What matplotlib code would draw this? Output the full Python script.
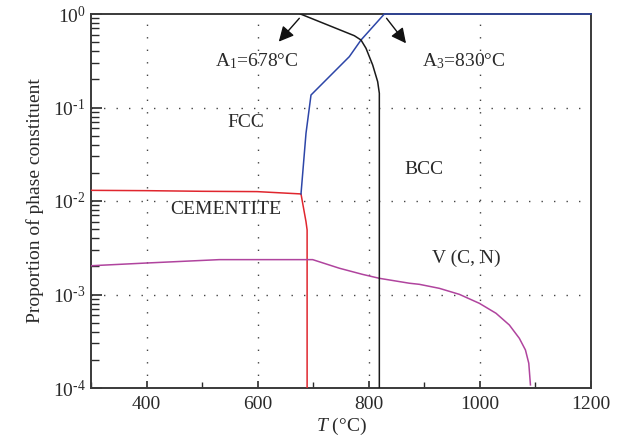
import math
import matplotlib
matplotlib.use("Agg")
import matplotlib.pyplot as plt
from matplotlib.ticker import FixedLocator, LogLocator, NullFormatter, FuncFormatter

plt.rcParams['font.family'] = ['Liberation Serif', 'DejaVu Serif']
plt.rcParams['mathtext.fontset'] = 'custom'
plt.rcParams['mathtext.rm'] = 'Liberation Serif'
plt.rcParams['mathtext.it'] = 'Liberation Serif:italic'

# ---- data ----
black_T = [677, 741, 774, 786, 795, 807, 816, 819, 819]
black_y = [1.0, 0.703, 0.586, 0.527, 0.43, 0.285, 0.189, 0.142, 1e-4]

blue_T = [678, 687, 696, 765, 786, 828, 1200]
blue_y = [0.0119, 0.053, 0.136, 0.35, 0.527, 1.0, 1.0]

red_T = [300, 400, 500, 599, 678, 687, 689, 689]
red_y = [0.0130, 0.0129, 0.0127, 0.0126, 0.0119, 0.006, 0.0049, 1e-4]

mag_T = [300, 399, 531, 699, 747, 789, 819, 873, 891, 927, 963, 999, 1029,
         1053, 1071, 1082, 1088, 1091]
mag_y = [0.00203, 0.00217, 0.00236, 0.00236, 0.00191, 0.00164, 0.00149, 0.00132,
         0.001285, 0.001164, 0.001004, 0.000805, 0.00063, 0.000472, 0.00034,
         0.000255, 0.000184, 0.000108]

xticks = [400, 600, 800, 1000, 1200]
xminor = [300, 500, 700, 900, 1100]

fig = plt.figure(figsize=(6.21, 4.47), dpi=100)
ax = fig.add_axes([91/621, (447-388)/447, 500/621, 374/447])

ax.set_yscale('log')
ax.set_xlim(300, 1200)
ax.set_ylim(1e-4, 1)

ax.plot(red_T, red_y, color='#e0262e', lw=1.1, zorder=3)
ax.plot(mag_T, mag_y, color='#b0449e', lw=1.1, zorder=3)
ax.plot(blue_T, blue_y, color='#2d46a8', lw=1.1, zorder=4, clip_on=False)
ax.plot(black_T, black_y, color='#1a1a1a', lw=1.1, zorder=4)

# grid
for xv in [400, 600, 800, 1000]:
    ax.axvline(xv, color='#444444', lw=1.0, linestyle=(0, (1, 8)), zorder=1)
for yv in [1e-1, 1e-2, 1e-3]:
    ax.axhline(yv, color='#444444', lw=1.0, linestyle=(0, (1, 8)), zorder=1)

ax.xaxis.set_major_locator(FixedLocator(xticks))
ax.xaxis.set_minor_locator(FixedLocator(xminor))
ax.yaxis.set_major_locator(LogLocator(base=10, numticks=10))
ax.yaxis.set_minor_locator(LogLocator(base=10, subs=range(2, 10), numticks=10))
ax.yaxis.set_minor_formatter(NullFormatter())

def yfmt(v, pos):
    e = int(round(math.log10(v)))
    if e == 0:
        return r'10$^{0}$'
    return r'10$^{\text{-}%d}$' % (-e)
ax.yaxis.set_major_formatter(FuncFormatter(yfmt))

ax.tick_params(axis='both', which='both', direction='in', labelsize=14,
               colors='#2a2a2a', top=False, right=False)
ax.tick_params(axis='y', which='major', length=8, width=1.2, pad=4)
ax.tick_params(axis='y', which='minor', length=6, width=1.0)
ax.tick_params(axis='x', which='major', length=5, width=1.2, pad=6)
ax.tick_params(axis='x', which='minor', length=4, width=1.0)

for s in ax.spines.values():
    s.set_color('#3a3a3a')
    s.set_linewidth(1.4)

ax.set_ylabel('Proportion of phase constituent', fontsize=14, color='#2a2a2a', labelpad=6)
ax.set_xlabel(r'$T$ (°C)', fontsize=14, color='#2a2a2a', labelpad=2)

tc = '#2a2a2a'
ax.text(599, 0.31, r'A$_1$=678°C', fontsize=14, ha='center', va='center', color=tc)
ax.text(970, 0.31, r'A$_3$=830°C', fontsize=14, ha='center', va='center', color=tc)
ax.text(579, 0.069, 'FCC', fontsize=14, ha='center', va='center', color=tc)
ax.text(899, 0.0218, 'BCC', fontsize=14, ha='center', va='center', color=tc)
ax.text(542, 0.00815, 'CEMENTITE', fontsize=14, ha='center', va='center', color=tc)
ax.text(975, 0.00244, 'V (C, N)', fontsize=14, ha='center', va='center', color=tc)

arrowprops = dict(arrowstyle='-|>,head_length=0.9,head_width=0.45', color='#111111', lw=1.0,
                  shrinkA=0, shrinkB=0)
ax.annotate('', xy=(638, 0.506), xytext=(675, 0.9), arrowprops=arrowprops)
ax.annotate('', xy=(867, 0.486), xytext=(832, 0.9), arrowprops=arrowprops)

fig.savefig('out.png', dpi=100)
